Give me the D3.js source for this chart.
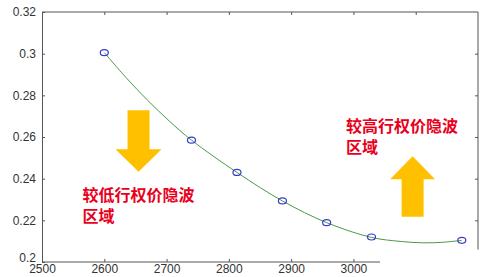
<!DOCTYPE html>
<html>
<head>
<meta charset="utf-8">
<script src="https://cdn.jsdelivr.net/npm/d3@7"></script>
<style>
  body { margin: 0; background: #fff; }
  svg text { font-family: Arial, "Liberation Sans", sans-serif; }
</style>
</head>
<body>
<div id="chart"></div>
<script>
// strike prices and implied vol
var strikes = [2600, 2740, 2813, 2886, 2957, 3029, 3174];
var vols = [0.3005, 0.2585, 0.243, 0.2293, 0.2189, 0.212, 0.2104];
// the green fitted curve
var fitStrikes = [2600, 2635, 2670, 2705, 2740, 2813, 2886, 2957, 3029, 3075, 3112, 3145, 3174];
var fitVols = [0.3005, 0.2885, 0.2775, 0.2675, 0.2585, 0.243, 0.2293, 0.2189, 0.2118, 0.2099, 0.2092, 0.2095, 0.2104];
var xTicks = [2500, 2600, 2700, 2800, 2900, 3000];
var yTicks = [0.2, 0.22, 0.24, 0.26, 0.28, 0.3, 0.32];
var lowText = ['较低行权价隐波', '区域'];
var highText = ['较高行权价隐波', '区域'];

var points = strikes.map(function(s, i) { return {k: s, v: vols[i]}; });
var fit = fitStrikes.map(function(s, i) { return {k: s, v: fitVols[i]}; });

var fullWidth = 499, fullHeight = 277;
var margin = {top: 12, right: 21, bottom: 15, left: 42};
var width = fullWidth - margin.left - margin.right;
var height = fullHeight - margin.top - margin.bottom;

var svg = d3.select('#chart').append('svg')
  .attr('width', fullWidth)
  .attr('height', fullHeight)
  .append('g')
  .attr('transform', 'translate(' + margin.left + ',' + margin.top + ')');

var x = d3.scaleLinear().domain([2500, 3200]).range([0, width]);
var y = d3.scaleLinear().domain([0.2, 0.32]).range([height, 0]);

var axisColor = '#555';

// left axis, ticks pointing inward
var yAxis = svg.append('g').call(d3.axisLeft(y).tickValues(yTicks).tickSize(-3).tickPadding(6)
  .tickFormat(function(d) { return d3.format('')(+d.toFixed(2)); }));
yAxis.select('.domain').attr('stroke', axisColor);
yAxis.selectAll('.tick line').attr('stroke', axisColor);
yAxis.selectAll('text').style('font-size', '12px').attr('fill', '#333');
yAxis.selectAll('.tick').filter(function(d) { return d === 0.2; }).select('text').attr('dy', '-0.05em');

// bottom axis, the right part of it is faded out in the picture
var xAxis = svg.append('g').attr('transform', 'translate(0,' + height + ')')
  .call(d3.axisBottom(x).tickValues(xTicks).tickSize(-3).tickPadding(2).tickFormat(d3.format('d')));
xAxis.select('.domain').remove();
xAxis.selectAll('.tick line').attr('stroke', axisColor);
xAxis.selectAll('text').style('font-size', '12px').attr('fill', '#333');
svg.append('line').attr('x1', 0).attr('x2', x(2980) + 39).attr('y1', height).attr('y2', height)
  .attr('stroke', axisColor);

// top axis
var topAxis = svg.append('g')
  .call(d3.axisTop(x).tickValues([2600, 2700, 2800, 2900, 3000, 3100]).tickSize(-3).tickFormat(''));
topAxis.select('.domain').remove();
topAxis.selectAll('.tick line').attr('stroke', axisColor);
svg.append('line').attr('x1', 0).attr('x2', width).attr('y1', 0).attr('y2', 0).attr('stroke', axisColor);

// right axis
var rightAxis = svg.append('g').attr('transform', 'translate(' + width + ',0)')
  .call(d3.axisRight(y).tickValues([0.22, 0.24, 0.26, 0.28, 0.3]).tickSize(-3).tickFormat(''));
rightAxis.select('.domain').remove();
rightAxis.selectAll('.tick line').attr('stroke', axisColor);
svg.append('line').attr('x1', width).attr('x2', width).attr('y1', 0).attr('y2', y(0.206))
  .attr('stroke', axisColor);

// fitted smile curve
var line = d3.line()
  .x(function(d) { return x(d.k); })
  .y(function(d) { return y(d.v); })
  .curve(d3.curveCatmullRom);

svg.append('path')
  .datum(fit)
  .attr('d', line)
  .attr('fill', 'none')
  .attr('stroke', '#4a9a4a')
  .attr('stroke-width', 1);

svg.selectAll('ellipse.pt')
  .data(points)
  .enter().append('ellipse')
  .attr('class', 'pt')
  .attr('cx', function(d) { return x(d.k); })
  .attr('cy', function(d) { return y(d.v); })
  .attr('rx', 4)
  .attr('ry', 3)
  .attr('fill', 'none')
  .attr('stroke', '#3a3acc')
  .attr('stroke-width', 1.2);

// arrows (drawn in data space)
var arrowColor = '#ffc000';
function arrow(cx, yTail, yHeadBase, yTip, shaftHalf, headHalf) {
  var xc = x(cx);
  var pts = [
    [xc - shaftHalf, y(yTail)], [xc + shaftHalf, y(yTail)],
    [xc + shaftHalf, y(yHeadBase)], [xc + headHalf, y(yHeadBase)],
    [xc, y(yTip)],
    [xc - headHalf, y(yHeadBase)], [xc - shaftHalf, y(yHeadBase)]
  ];
  svg.append('polygon')
    .attr('points', pts.map(function(p) { return p.join(','); }).join(' '))
    .attr('fill', arrowColor);
}
arrow(2655, 0.2728, 0.2541, 0.2433, 11, 23);
arrow(3095, 0.2217, 0.2397, 0.2508, 11, 22.5);

// labels
function label(lines, kx, vy) {
  var t = svg.append('text')
    .attr('x', x(kx))
    .attr('y', y(vy))
    .attr('fill', '#e8001c')
    .style('font-family', '"Noto Sans CJK SC", sans-serif')
    .style('font-size', '16px')
    .style('font-weight', 'bold');
  lines.forEach(function(s, i) {
    t.append('tspan').attr('x', x(kx)).attr('dy', i === 0 ? 0 : 21).text(s);
  });
}
label(lowText, 2565, 0.2293);
label(highText, 2988, 0.2624);
</script>
</body>
</html>
